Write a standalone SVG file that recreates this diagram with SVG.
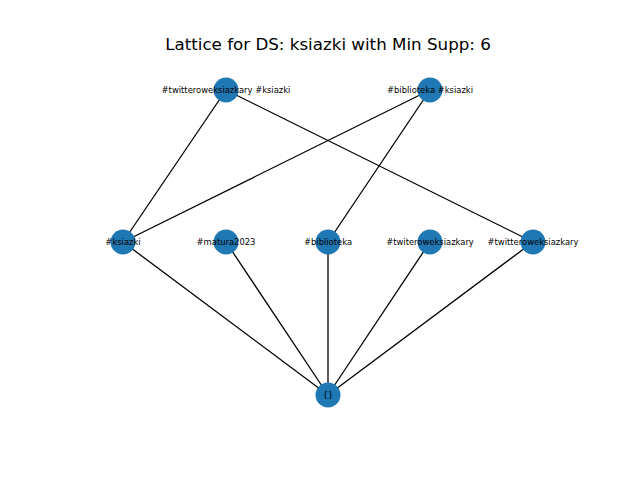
<svg xmlns="http://www.w3.org/2000/svg" width="640" height="480" viewBox="0 0 640 480">
<style>
.e{stroke:#000;stroke-width:1.3;fill:none}
.n{fill:#1f77b4}
.l{font-family:"DejaVu Sans",sans-serif;font-size:8.4px;text-anchor:middle;dominant-baseline:central;fill:#000}
.t{font-family:"DejaVu Sans",sans-serif;font-size:16.7px;text-anchor:middle;fill:#000}
</style>
<rect width="640" height="480" fill="#fff"/>
<text class="t" x="328" y="50">Lattice for DS: ksiazki with Min Supp: 6</text>
<g id="connectors">
<line class="e" x1="226" y1="90" x2="123" y2="242"/>
<line class="e" x1="226" y1="90" x2="533" y2="242"/>
<line class="e" x1="430" y1="90" x2="123" y2="242"/>
<line class="e" x1="430" y1="90" x2="328" y2="242"/>
<line class="e" x1="123" y1="242" x2="328" y2="395"/>
<line class="e" x1="226" y1="242" x2="328" y2="395"/>
<line class="e" x1="328" y1="242" x2="328" y2="395"/>
<line class="e" x1="430" y1="242" x2="328" y2="395"/>
<line class="e" x1="533" y1="242" x2="328" y2="395"/>
</g>
<g id="n1"><circle class="n" cx="226" cy="90" r="12.5"/><text class="l" x="226" y="90">#twitteroweksiazkary #ksiazki</text></g>
<g id="n2"><circle class="n" cx="430" cy="90" r="12.5"/><text class="l" x="430" y="90">#biblioteka #ksiazki</text></g>
<g id="n3"><circle class="n" cx="123" cy="242" r="12.5"/><text class="l" x="123" y="242">#ksiazki</text></g>
<g id="n4"><circle class="n" cx="226" cy="242" r="12.5"/><text class="l" x="226" y="242">#matura2023</text></g>
<g id="n5"><circle class="n" cx="328" cy="242" r="12.5"/><text class="l" x="328" y="242">#biblioteka</text></g>
<g id="n6"><circle class="n" cx="430" cy="242" r="12.5"/><text class="l" x="430" y="242">#twiteroweksiazkary</text></g>
<g id="n7"><circle class="n" cx="533" cy="242" r="12.5"/><text class="l" x="533" y="242">#twitteroweksiazkary</text></g>
<g id="n8"><circle class="n" cx="328" cy="395" r="12.5"/><text class="l" x="328" y="395">{}</text></g>
</svg>
